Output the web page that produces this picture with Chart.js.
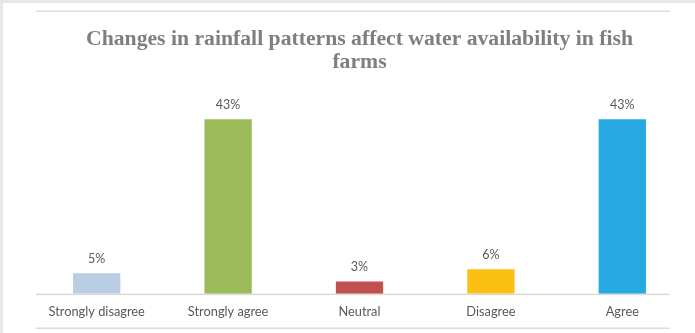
<!DOCTYPE html>
<html>
<head>
<meta charset="utf-8">
<script src="https://cdn.jsdelivr.net/npm/chart.js@4"></script>
<style>
html,body{margin:0;padding:0;background:#fff;}
#wrap{position:relative;width:695px;height:333px;}
</style>
</head>
<body>
<div id="wrap"><canvas id="c" width="695" height="333"></canvas></div>
<script>
const categories = ['Strongly disagree', 'Strongly agree', 'Neutral', 'Disagree', 'Agree'];
const values = [5, 43, 3, 6, 43];
const barColors = ['#b9cde5', '#9bbb59', '#c0504d', '#fcc012', '#27aae2'];
const titleLines = ['Changes in rainfall patterns affect water availability in fish', 'farms'];

const decor = {
  id: 'decor',
  beforeDraw(chart) {
    const ctx = chart.ctx;
    ctx.save();
    ctx.fillStyle = '#ffffff';
    ctx.fillRect(0, 0, chart.width, chart.height);
    ctx.fillStyle = '#e7e7e8';
    ctx.fillRect(0, 0, chart.width, 3);
    ctx.fillRect(0, 0, 3, chart.height);
    ctx.fillStyle = '#dcdcdc';
    ctx.fillRect(36, 10.5, 634, 1.5);
    ctx.fillRect(36, 327.5, 634, 1.5);
    const y0 = chart.scales.y.getPixelForValue(0);
    ctx.fillStyle = '#d9d9d9';
    ctx.fillRect(36, y0, 634, 1.5);
    ctx.restore();
  },
  afterDatasetsDraw(chart) {
    const ctx = chart.ctx;
    const meta = chart.getDatasetMeta(0);
    ctx.save();
    ctx.fillStyle = '#595959';
    ctx.font = '12.5px Lato';
    ctx.textAlign = 'center';
    ctx.textBaseline = 'bottom';
    meta.data.forEach((bar, i) => {
      ctx.fillText(values[i] + '%', bar.x, bar.y - 8);
    });
    ctx.restore();
  }
};

new Chart(document.getElementById('c'), {
  type: 'bar',
  data: {
    labels: categories,
    datasets: [{
      data: values,
      backgroundColor: barColors,
      borderWidth: 0,
      categoryPercentage: 1,
      barPercentage: 0.36
    }]
  },
  options: {
    responsive: false,
    animation: false,
    devicePixelRatio: 1,
    layout: { padding: { left: 31, right: 7, top: 27, bottom: 10 } },
    plugins: {
      legend: { display: false },
      tooltip: { enabled: false },
      title: {
        display: true,
        text: titleLines,
        color: '#7f7f7f',
        font: { family: 'Liberation Serif', size: 21.7, weight: 'bold', lineHeight: 1.1 },
        padding: { top: 0, bottom: 16 }
      }
    },
    scales: {
      y: {
        display: false,
        min: 0,
        max: 50
      },
      x: {
        grid: { display: false },
        border: { display: false },
        ticks: { color: '#595959', font: { family: 'Lato', size: 12.8 }, padding: 3, maxRotation: 0, autoSkip: false }
      }
    }
  },
  plugins: [decor]
});
</script>
</body>
</html>
